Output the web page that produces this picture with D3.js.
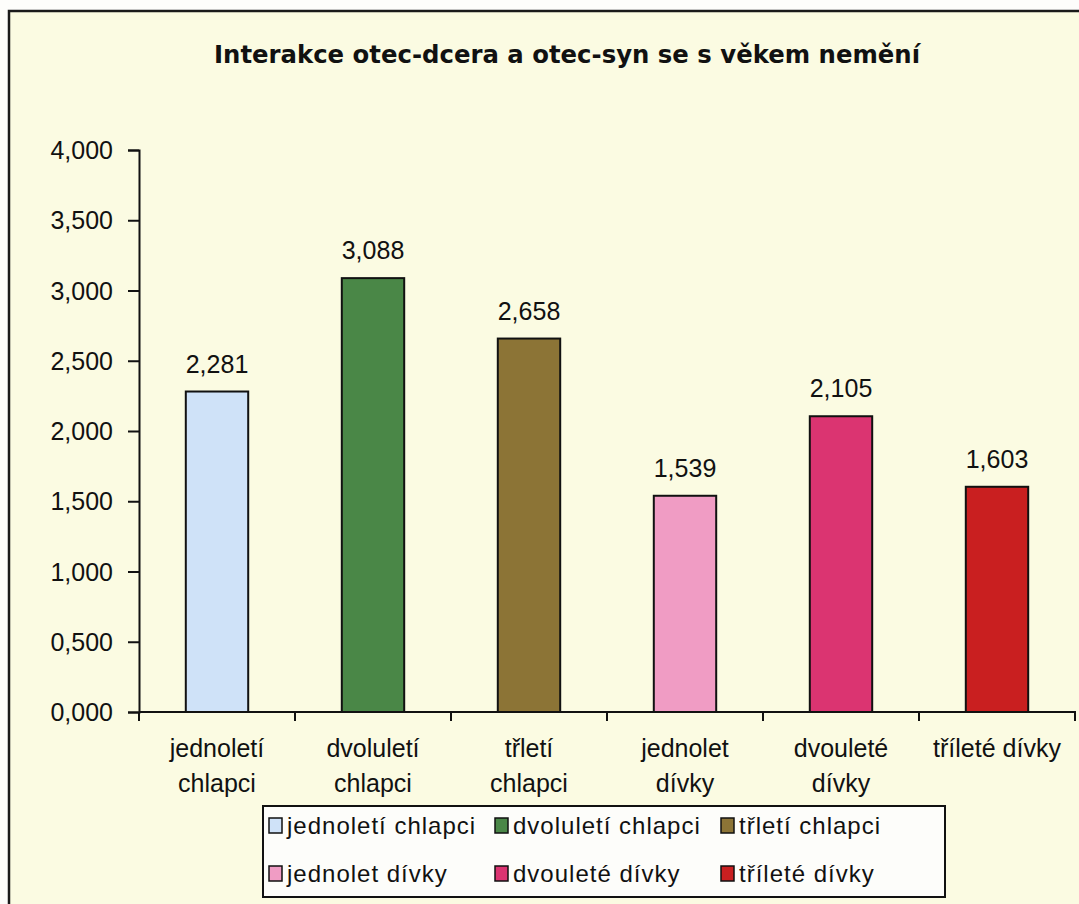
<!DOCTYPE html>
<html>
<head>
<meta charset="utf-8">
<script src="https://cdn.jsdelivr.net/npm/d3@7"></script>
<style>
  body { margin: 0; background: #fdfdfb; }
  text { font-family: "Liberation Sans", Arial, sans-serif; fill: #111; }
</style>
</head>
<body>
<div id="chart"></div>
<script>
// data
const title = "Interakce otec-dcera a otec-syn se s věkem nemění";
const categories = ["jednoletí chlapci", "dvoluletí chlapci", "třletí chlapci",
                    "jednolet dívky", "dvouleté dívky", "tříleté dívky"];
const values = [2.281, 3.088, 2.658, 1.539, 2.105, 1.603];
const colors = ["#cfe2f8", "#4a8747", "#8c7436", "#f09cc4", "#db3471", "#c91f20"];
const yTicks = [0, 0.5, 1, 1.5, 2, 2.5, 3, 3.5, 4];

const width = 1079, height = 904;
const czech = d3.formatLocale({decimal: ",", thousands: " ", grouping: [3], currency: ["", ""]});
const fmt = czech.format(".3f");

const svg = d3.select("#chart").append("svg")
    .attr("width", width)
    .attr("height", height);

// pozadí a rámeček
svg.append("rect")
    .attr("x", 9).attr("y", 11)
    .attr("width", width).attr("height", height)
    .attr("fill", "#fbfbe2")
    .attr("stroke", "#1a1a1a")
    .attr("stroke-width", 2.5);

svg.append("text")
    .attr("x", 567).attr("y", 63)
    .attr("text-anchor", "middle")
    .attr("textLength", 706)
    .attr("lengthAdjust", "spacingAndGlyphs")
    .style("font-family", "'DejaVu Sans', Verdana, sans-serif")
    .style("font-weight", "bold")
    .style("font-size", "25px")
    .text(title);

const x = d3.scaleBand()
    .domain(categories)
    .range([139, 1075])
    .paddingInner(0.6)
    .paddingOuter(0.3);

const y = d3.scaleLinear()
    .domain([0, 4])
    .range([712, 150]);

// osa Y
const yAxis = svg.append("g")
    .attr("transform", "translate(139,0)")
    .call(d3.axisLeft(y).tickValues(yTicks).tickFormat(fmt).tickSizeOuter(0).tickSize(11).tickPadding(15));
yAxis.select(".domain").attr("stroke", "#111").attr("stroke-width", 2);
yAxis.selectAll(".tick line").attr("stroke", "#111").attr("stroke-width", 2);
yAxis.selectAll(".tick text")
    .attr("dy", "0.34em")
    .style("font-size", "25px")
    .style("font-family", "'Liberation Sans', Arial, sans-serif")
    .attr("fill", "#111");

// sloupce
svg.selectAll(".bar")
    .data(values)
    .enter()
    .append("rect")
    .attr("class", "bar")
    .attr("x", (d, i) => x(categories[i]))
    .attr("y", d => y(d))
    .attr("width", x.bandwidth())
    .attr("height", d => y(0) - y(d))
    .attr("fill", (d, i) => colors[i])
    .attr("stroke", "#111")
    .attr("stroke-width", 2);

svg.selectAll(".val")
    .data(values)
    .enter()
    .append("text")
    .attr("class", "val")
    .attr("x", (d, i) => x(categories[i]) + x.bandwidth() / 2)
    .attr("y", d => y(d) - 19)
    .attr("text-anchor", "middle")
    .style("font-size", "25px")
    .text(d => fmt(d));

// osa X
const step = x.step();
svg.append("line")
    .attr("x1", 139).attr("x2", 1076)
    .attr("y1", 712).attr("y2", 712)
    .attr("stroke", "#111").attr("stroke-width", 2);
svg.selectAll(".xtick")
    .data(d3.range(categories.length + 1))
    .enter()
    .append("line")
    .attr("x1", i => 139 + i * step)
    .attr("x2", i => 139 + i * step)
    .attr("y1", 712).attr("y2", 721)
    .attr("stroke", "#111").attr("stroke-width", 2);

// popisky kategorií, zalamované podle šířky
const xl = svg.selectAll(".xlab")
    .data(categories)
    .enter()
    .append("text")
    .attr("class", "xlab")
    .attr("text-anchor", "middle")
    .style("font-size", "25px")
    .attr("x", d => x(d) + x.bandwidth() / 2)
    .attr("y", 757);

xl.each(function(d) {
    const t = d3.select(this);
    const cx = +t.attr("x");
    const words = d.split(" ");
    let line = [];
    let tspan = t.append("tspan").attr("x", cx).attr("dy", 0);
    words.forEach(w => {
        line.push(w);
        tspan.text(line.join(" "));
        if (tspan.node().getComputedTextLength() > 131 && line.length > 1) {
            line.pop();
            tspan.text(line.join(" "));
            line = [w];
            tspan = t.append("tspan").attr("x", cx).attr("dy", 35).text(w);
        }
    });
});

// legenda
const legend = svg.append("g").attr("transform", "translate(263,806)");
legend.append("rect")
    .attr("width", 682).attr("height", 91)
    .attr("fill", "#fdfdfa")
    .attr("stroke", "#111")
    .attr("stroke-width", 2);

const item = legend.selectAll(".leg")
    .data(categories)
    .enter()
    .append("g")
    .attr("class", "leg")
    .attr("transform", (d, i) => `translate(${6 + (i % 3) * 226},${i < 3 ? 12 : 60})`);

item.append("rect")
    .attr("width", 13).attr("height", 15)
    .attr("fill", (d, i) => colors[i])
    .attr("stroke", "#111")
    .attr("stroke-width", 1.5);

item.append("text")
    .attr("x", 18).attr("y", 16)
    .style("font-size", "24px")
    .style("letter-spacing", "1px")
    .text(d => d);
</script>
</body>
</html>
